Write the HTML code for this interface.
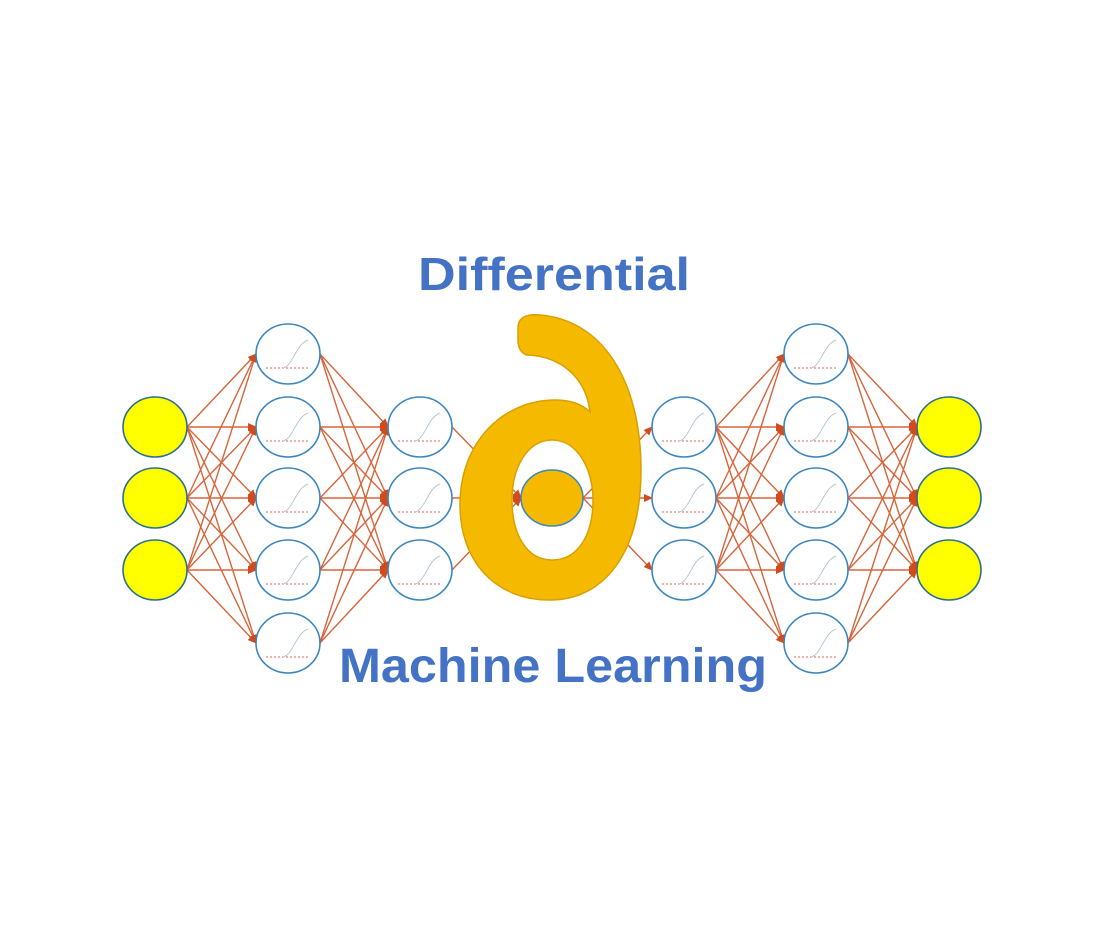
<!DOCTYPE html>
<html><head><meta charset="utf-8"><style>
html,body{margin:0;padding:0;background:#fff;}
svg{display:block;}
</style></head><body>
<svg id="s" width="1105" height="933" viewBox="0 0 1105 933" xmlns="http://www.w3.org/2000/svg">
<defs>
<marker id="ah" markerWidth="9" markerHeight="8" refX="8" refY="4" orient="auto" markerUnits="userSpaceOnUse">
<path d="M0,0 L9,4 L0,8 Z" fill="#d24b1c"/>
</marker>
</defs>
<g id="edges" stroke="#d8643a" stroke-width="1.4"></g>
<g id="nodes"></g>
<path fill="#f5ba00" stroke="#d9a000" stroke-width="1.5" fill-rule="evenodd" d="M518,328 Q518,313 540,315 C602,320 641,380 641,470 C641,552 605,600 550,600 C494,600 460,560 460,505 C460,440 505,400 555,400 C570,400 582,404 590,412 C586,377 560,356 527,355 Q518,352 518,340 Z M552,440 C578,440 593,470 593,500 C593,535 578,560 552,560 C527,560 512,535 512,500 C512,468 527,440 552,440 Z"/>
<ellipse cx="552" cy="498" rx="31" ry="28" fill="#f5ba00" stroke="#3a86c0" stroke-width="1.5"/>
<text x="554" y="290" text-anchor="middle" font-family="Liberation Sans, sans-serif" font-weight="bold" font-size="46" fill="#4472c4" textLength="272" lengthAdjust="spacingAndGlyphs">Differential</text>
<text x="553" y="682" text-anchor="middle" font-family="Liberation Sans, sans-serif" font-weight="bold" font-size="48" fill="#4472c4" textLength="428" lengthAdjust="spacingAndGlyphs">Machine Learning</text>
</svg>
<script>
var NS="http://www.w3.org/2000/svg";
var E=document.getElementById('edges'),N=document.getElementById('nodes');
var y3=[427,498,570],y5=[354,427,498,570,643];
var L=[[155,y3,'in'],[288,y5,'h'],[420,y3,'h'],[684,y3,'h'],[816,y5,'h'],[949,y3,'in']];
var rx=32,ry=30;
function line(x1,y1,x2,y2,r1,r2){
var l=document.createElementNS(NS,'line');
l.setAttribute('x1',x1+(r1||rx));l.setAttribute('y1',y1);
l.setAttribute('x2',x2-(r2||rx));l.setAttribute('y2',y2);
l.setAttribute('marker-end','url(#ah)');E.appendChild(l);}
function conn(a,b){for(var i=0;i<a[1].length;i++)for(var j=0;j<b[1].length;j++)line(a[0],a[1][i],b[0],b[1][j]);}
conn(L[0],L[1]);conn(L[1],L[2]);conn(L[3],L[4]);conn(L[4],L[5]);
y3.forEach(function(y){line(420,y,552,498,32,31);line(552,498,684,y,31,32);});
L.forEach(function(l){l[1].forEach(function(y){
var e=document.createElementNS(NS,'ellipse');e.setAttribute('cx',l[0]);e.setAttribute('cy',y);
e.setAttribute('rx',rx);e.setAttribute('ry',ry);
e.setAttribute('fill',l[2]=='in'?'#ffff00':'#fff');
e.setAttribute('stroke',l[2]=='in'?'#2d6e8e':'#3a86c0');e.setAttribute('stroke-width','1.6');N.appendChild(e);
if(l[2]=='h'){var p=document.createElementNS(NS,'path');
p.setAttribute('d','M'+(l[0]-22)+','+(y+14)+' L'+(l[0]+22)+','+(y+14));
p.setAttribute('stroke','#e06060');p.setAttribute('stroke-dasharray','2,2');p.setAttribute('stroke-width','1');N.appendChild(p);
var c=document.createElementNS(NS,'path');
c.setAttribute('d','M'+(l[0]-5)+','+(y+14)+' C'+(l[0]+5)+','+(y+12)+' '+(l[0]+8)+','+(y-10)+' '+(l[0]+20)+','+(y-14));
c.setAttribute('stroke','#b5c8d6');c.setAttribute('fill','none');c.setAttribute('stroke-width','1');N.appendChild(c);}
});});
</script>
</body></html>
